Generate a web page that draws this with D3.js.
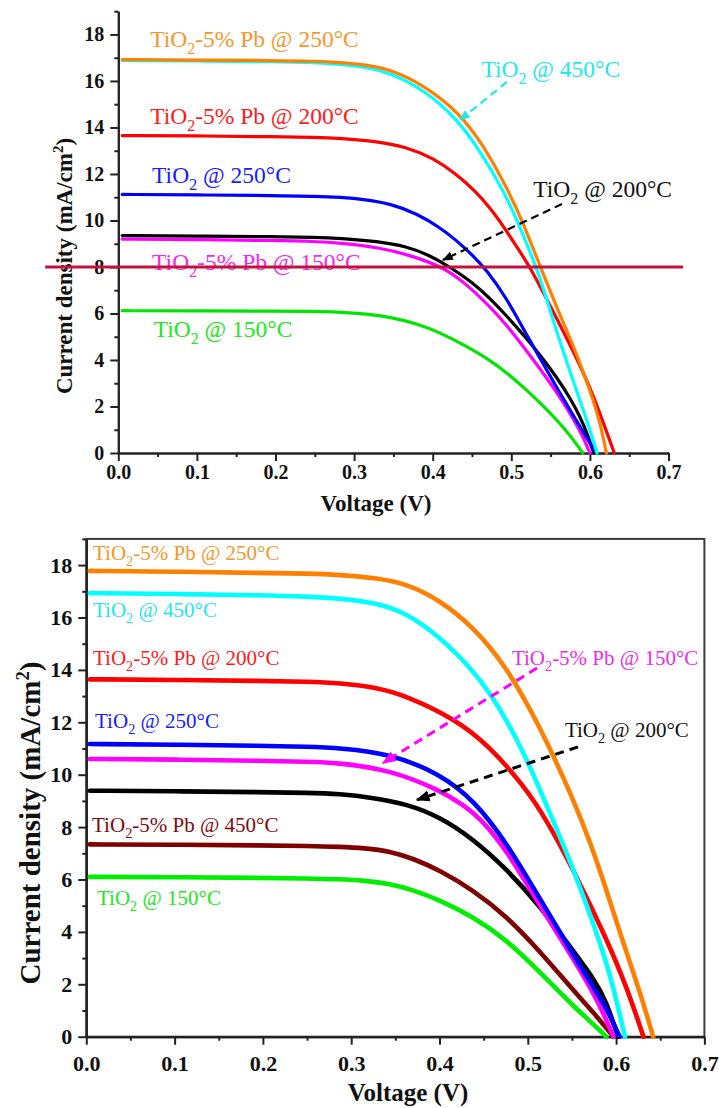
<!DOCTYPE html>
<html>
<head>
<meta charset="utf-8">
<script src="https://cdn.jsdelivr.net/npm/d3@7"></script>
<style>
body { margin: 0; background: #fff; }
svg { display: block; }
text { font-family: "Liberation Serif", "Times New Roman", serif; }
</style>
</head>
<body>
<svg id="chart" width="719" height="1108"></svg>
<script>
// ---------- data: top panel, [voltage V, current density mA/cm2]
var top_pb250 = [[0.005,16.92],[0.1,16.9],[0.2,16.88],[0.25,16.85],[0.282,16.8],[0.315,16.7],[0.346,16.5],[0.39,15.8],[0.435,14.6],[0.465,13.2],[0.494,11.45],[0.515,9.9],[0.537,8.0],[0.558,6.25],[0.579,4.6],[0.593,3.35],[0.604,2.3],[0.613,1.3],[0.621,0]];
var top_ti450 = [[0.005,16.88],[0.1,16.86],[0.2,16.83],[0.25,16.79],[0.282,16.72],[0.315,16.6],[0.346,16.35],[0.39,15.6],[0.43,14.4],[0.46,13.0],[0.49,11.3],[0.51,9.8],[0.532,8.0],[0.545,6.6],[0.558,5.2],[0.573,3.65],[0.587,2.3],[0.6,1.0],[0.609,0]];
var top_pb200 = [[0.005,13.65],[0.1,13.64],[0.2,13.6],[0.25,13.58],[0.282,13.54],[0.33,13.4],[0.367,13.15],[0.4,12.7],[0.43,12.0],[0.453,11.3],[0.473,10.55],[0.492,9.65],[0.509,8.75],[0.524,8.0],[0.553,6.1],[0.58,4.3],[0.604,2.55],[0.631,0]];
var top_ti250 = [[0.005,11.12],[0.1,11.1],[0.2,11.07],[0.25,11.04],[0.282,11.0],[0.315,10.9],[0.346,10.72],[0.38,10.3],[0.409,9.7],[0.43,9.15],[0.451,8.5],[0.469,7.85],[0.494,6.65],[0.515,5.35],[0.537,4.05],[0.558,2.8],[0.579,1.6],[0.595,0.7],[0.608,0]];
var top_ti200 = [[0.005,9.35],[0.1,9.33],[0.2,9.3],[0.25,9.28],[0.282,9.24],[0.33,9.1],[0.367,8.88],[0.395,8.52],[0.422,8.0],[0.45,7.35],[0.473,6.65],[0.494,5.9],[0.515,5.1],[0.537,4.2],[0.558,3.25],[0.575,2.35],[0.587,1.6],[0.597,0.8],[0.605,0]];
var top_pb150 = [[0.005,9.2],[0.1,9.18],[0.2,9.14],[0.25,9.1],[0.282,9.03],[0.33,8.85],[0.37,8.52],[0.413,8.0],[0.44,7.35],[0.473,6.3],[0.494,5.5],[0.515,4.6],[0.537,3.6],[0.558,2.6],[0.575,1.7],[0.59,0.8],[0.6,0]];
var top_ti150 = [[0.005,6.12],[0.1,6.11],[0.2,6.1],[0.25,6.09],[0.282,6.06],[0.315,5.98],[0.346,5.85],[0.38,5.56],[0.409,5.18],[0.44,4.65],[0.473,4.0],[0.494,3.45],[0.515,2.85],[0.537,2.15],[0.558,1.42],[0.575,0.75],[0.591,0]];

// ---------- data: bottom panel
var bot_pb250 = [[0.004,17.78],[0.1,17.75],[0.2,17.7],[0.25,17.68],[0.287,17.63],[0.33,17.5],[0.363,17.28],[0.4,16.67],[0.438,15.65],[0.476,14.12],[0.514,11.83],[0.552,9.03],[0.572,7.3],[0.589,5.6],[0.605,3.9],[0.62,2.4],[0.632,1.15],[0.642,0]];
var bot_ti450 = [[0.004,16.93],[0.1,16.9],[0.2,16.85],[0.25,16.8],[0.287,16.73],[0.33,16.55],[0.363,16.16],[0.4,15.27],[0.438,14.0],[0.468,12.6],[0.499,10.6],[0.521,8.85],[0.552,6.4],[0.582,3.6],[0.597,1.9],[0.61,0]];
var bot_pb200 = [[0.004,13.64],[0.1,13.62],[0.2,13.58],[0.25,13.55],[0.287,13.5],[0.33,13.32],[0.363,13.0],[0.419,12.1],[0.457,11.07],[0.495,9.6],[0.521,8.3],[0.552,6.35],[0.589,3.75],[0.612,1.9],[0.631,0]];
var bot_ti250 = [[0.004,11.17],[0.1,11.15],[0.2,11.1],[0.25,11.07],[0.287,11.02],[0.344,10.8],[0.4,10.05],[0.44,9.0],[0.476,7.4],[0.514,5.25],[0.552,3.1],[0.575,1.85],[0.589,1.1],[0.604,0]];
var bot_pb150 = [[0.004,10.6],[0.1,10.58],[0.2,10.53],[0.25,10.5],[0.287,10.45],[0.344,10.18],[0.4,9.42],[0.427,8.85],[0.446,8.35],[0.476,7.13],[0.514,4.98],[0.552,2.95],[0.572,1.8],[0.585,0.95],[0.597,0]];
var bot_ti200 = [[0.004,9.39],[0.1,9.37],[0.2,9.33],[0.25,9.31],[0.287,9.27],[0.325,9.12],[0.363,8.88],[0.4,8.4],[0.438,7.55],[0.476,6.4],[0.514,4.98],[0.552,3.25],[0.575,2.2],[0.589,1.35],[0.602,0]];
var bot_pb450 = [[0.004,7.34],[0.1,7.33],[0.2,7.3],[0.25,7.28],[0.287,7.25],[0.315,7.2],[0.344,7.08],[0.37,6.8],[0.4,6.36],[0.438,5.6],[0.476,4.6],[0.514,3.25],[0.552,1.75],[0.575,0.9],[0.597,0]];
var bot_ti150 = [[0.004,6.1],[0.1,6.09],[0.2,6.06],[0.25,6.04],[0.287,6.01],[0.315,5.96],[0.344,5.84],[0.37,5.6],[0.4,5.22],[0.438,4.58],[0.476,3.7],[0.514,2.45],[0.552,1.15],[0.572,0.55],[0.589,0]];

// tick values
var xTicks = [0, 0.1, 0.2, 0.3, 0.4, 0.5, 0.6, 0.7];
var xMinor = [0.05, 0.15, 0.25, 0.35, 0.45, 0.55, 0.65];
var yTicks = [0, 2, 4, 6, 8, 10, 12, 14, 16, 18];
var yMinor = [1, 3, 5, 7, 9, 11, 13, 15, 17, 19];

// labels (text) and where they sit, in data units
var topLabels = [
  ["TiO₂-5% Pb @ 250°C", 0.0405, 17.46, "#f5972e"],
  ["TiO₂-5% Pb @ 200°C", 0.0405, 14.15, "#ff1a1a"],
  ["TiO₂ @ 250°C", 0.043, 11.61, "#1a1aff"],
  ["TiO₂-5% Pb @ 150°C", 0.043, 7.87, "#ee2aee"],
  ["TiO₂ @ 150°C", 0.045, 4.99, "#22e622"],
  ["TiO₂ @ 450°C", 0.462, 16.17, "#22e8e8"],
  ["TiO₂ @ 200°C", 0.528, 11.01, "#111"]
];
var botLabels = [
  ["TiO₂-5% Pb @ 250°C", 0.0076, 18.19, "#f5972e"],
  ["TiO₂ @ 450°C", 0.0076, 16.02, "#22e8e8"],
  ["TiO₂-5% Pb @ 200°C", 0.0076, 14.19, "#ff1a1a"],
  ["TiO₂ @ 250°C", 0.0099, 11.78, "#1a1aff"],
  ["TiO₂-5% Pb @ 450°C", 0.0065, 7.81, "#7f0a0a"],
  ["TiO₂ @ 150°C", 0.0121, 5.03, "#22e622"],
  ["TiO₂-5% Pb @ 150°C", 0.482, 14.19, "#ee2aee"],
  ["TiO₂ @ 200°C", 0.542, 11.44, "#111"]
];
// dashed arrows [v1, j1, v2, j2, colour]
var topArrows = [
  [0.4945, 15.96, 0.4347, 14.32, "#22e8e8"],
  [0.5645, 10.71, 0.413, 8.3, "#000"]
];
var botArrows = [
  [0.5104, 14.07, 0.336, 10.45, "#ff00ff"],
  [0.5569, 11.06, 0.3745, 9.04, "#000"]
];
var topMarkLine = 8; // red overlay line in top panel

var svg = d3.select("#chart");
var defs = svg.append("defs");
var markerCount = 0;

function arrowMarker(color, size) {
  var id = "arr" + (markerCount++);
  defs.append("marker")
    .attr("id", id)
    .attr("viewBox", "0 0 10 10")
    .attr("refX", 9).attr("refY", 5)
    .attr("markerUnits", "userSpaceOnUse")
    .attr("markerWidth", size).attr("markerHeight", size)
    .attr("orient", "auto")
    .append("path")
    .attr("d", "M0,1 L10,5 L0,9 z")
    .attr("fill", color);
  return "url(#" + id + ")";
}

function addLabel(g, txt, px, py, color, size) {
  var parts = txt.split("₂");
  var t = g.append("text")
    .attr("x", px).attr("y", py)
    .attr("fill", color)
    .style("font-size", size + "px");
  t.append("tspan").text(parts[0]);
  t.append("tspan").text("2")
    .attr("dy", size * 0.3)
    .style("font-size", (size * 0.68) + "px");
  t.append("tspan").text(parts[1])
    .attr("dy", -size * 0.3);
}

function drawPanel(p) {
  var x = d3.scaleLinear().domain([0, 0.7]).range([p.left, p.right]);
  var y = d3.scaleLinear().domain([0, 19]).range([p.bottom, p.top]);
  var g = svg.append("g");

  if (p.frame) {
    g.append("rect")
      .attr("x", x(0)).attr("y", y(19))
      .attr("width", x(0.7) - x(0)).attr("height", y(0) - y(19))
      .attr("fill", "none").attr("stroke", "#3a3a3a").attr("stroke-width", 2);
  }

  // minor ticks
  g.append("g").attr("transform", "translate(0," + y(0) + ")")
    .call(d3.axisBottom(x).tickValues(xMinor).tickSize(4).tickSizeOuter(0).tickFormat(""));
  g.append("g").attr("transform", "translate(" + x(0) + ",0)")
    .call(d3.axisLeft(y).tickValues(yMinor).tickSize(4).tickSizeOuter(0).tickFormat(""));

  // major ticks
  g.append("g").attr("transform", "translate(0," + y(0) + ")")
    .call(d3.axisBottom(x).tickValues(xTicks).tickSize(8).tickSizeOuter(0)
      .tickPadding(p.xPad).tickFormat(d3.format(".1f")));
  g.append("g").attr("transform", "translate(" + x(0) + ",0)")
    .call(d3.axisLeft(y).tickValues(yTicks).tickSize(8).tickSizeOuter(0)
      .tickPadding(p.yPad).tickFormat(d3.format("d")));

  g.selectAll(".domain, .tick line").attr("stroke", "#222").attr("stroke-width", 2);
  g.selectAll(".tick text")
    .attr("fill", "#111")
    .style("font-family", "'Liberation Serif', 'Times New Roman', serif")
    .style("font-weight", "bold")
    .style("font-size", p.tickSize + "px");

  // curves (smoothed through the read points)
  var line = d3.line()
    .x(function(d) { return x(d[0]); })
    .y(function(d) { return y(d[1]); })
    .curve(d3.curveBasis);

  g.append("g").selectAll("path")
    .data(p.series)
    .enter()
    .append("path")
    .attr("d", function(d) { return line(d.pts); })
    .attr("fill", "none")
    .attr("stroke", function(d) { return d.color; })
    .attr("stroke-width", p.lineWidth)
    .attr("stroke-linecap", "round")
    .attr("stroke-linejoin", "round");

  // labels
  p.labels.forEach(function(l) {
    addLabel(g, l[0], x(l[1]), y(l[2]), l[3], p.labelSize);
  });

  // dashed arrows
  p.arrows.forEach(function(a) {
    g.append("line")
      .attr("x1", x(a[0])).attr("y1", y(a[1]))
      .attr("x2", x(a[2])).attr("y2", y(a[3]))
      .attr("stroke", a[4])
      .attr("stroke-width", p.arrowWidth)
      .attr("stroke-dasharray", p.dash)
      .attr("marker-end", arrowMarker(a[4], p.headSize));
  });

  // axis titles
  g.append("text")
    .attr("x", p.xTitle[0]).attr("y", p.xTitle[1])
    .attr("text-anchor", "middle")
    .style("font-weight", "bold")
    .style("font-size", p.xTitleSize + "px")
    .attr("fill", "#111")
    .text("Voltage (V)");

  var yt = g.append("text")
    .attr("transform", "translate(" + p.yTitle[0] + "," + p.yTitle[1] + ") rotate(-90)")
    .attr("text-anchor", "middle")
    .style("font-weight", "bold")
    .style("font-size", p.yTitleSize + "px")
    .attr("fill", "#111");
  yt.append("tspan").text("Current density (mA/cm");
  yt.append("tspan").text("2").attr("dy", -p.yTitleSize * 0.38).style("font-size", (p.yTitleSize * 0.65) + "px");
  yt.append("tspan").text(")").attr("dy", p.yTitleSize * 0.38);

  return { x: x, y: y, g: g };
}

// ---------- top panel
var topPanel = drawPanel({
  left: 118.3, right: 668.5, top: 11.2, bottom: 453,
  frame: false,
  xPad: 4, yPad: 6, tickSize: 20,
  lineWidth: 3.2, labelSize: 23.5,
  arrowWidth: 2.2, dash: "8,5", headSize: 11,
  xTitle: [376, 511], xTitleSize: 23,
  yTitle: [72, 266], yTitleSize: 23,
  labels: topLabels, arrows: topArrows,
  series: [
    { color: "#00e600", pts: top_ti150 },
    { color: "#ff00ff", pts: top_pb150 },
    { color: "#000000", pts: top_ti200 },
    { color: "#0000ff", pts: top_ti250 },
    { color: "#ff0000", pts: top_pb200 },
    { color: "#00ffff", pts: top_ti450 },
    { color: "#ff8000", pts: top_pb250 }
  ]
});

// red overlay line at 8 mA/cm2
topPanel.g.append("line")
  .attr("x1", topPanel.x(-0.093)).attr("x2", topPanel.x(0.7185))
  .attr("y1", topPanel.y(topMarkLine)).attr("y2", topPanel.y(topMarkLine))
  .attr("stroke", "#c3103c").attr("stroke-width", 3);

// ---------- bottom panel
drawPanel({
  left: 86.3, right: 704.4, top: 538.9, bottom: 1036.7,
  frame: true,
  xPad: 11, yPad: 6, tickSize: 22,
  lineWidth: 4.6, labelSize: 21,
  arrowWidth: 3, dash: "9,6", headSize: 14,
  xTitle: [408, 1101], xTitleSize: 25,
  yTitle: [40, 823], yTitleSize: 29,
  labels: botLabels, arrows: botArrows,
  series: [
    { color: "#00ee00", pts: bot_ti150 },
    { color: "#7f0000", pts: bot_pb450 },
    { color: "#000000", pts: bot_ti200 },
    { color: "#ff00ff", pts: bot_pb150 },
    { color: "#0000ff", pts: bot_ti250 },
    { color: "#ff0000", pts: bot_pb200 },
    { color: "#00ffff", pts: bot_ti450 },
    { color: "#ff8000", pts: bot_pb250 }
  ]
});
</script>
</body>
</html>
